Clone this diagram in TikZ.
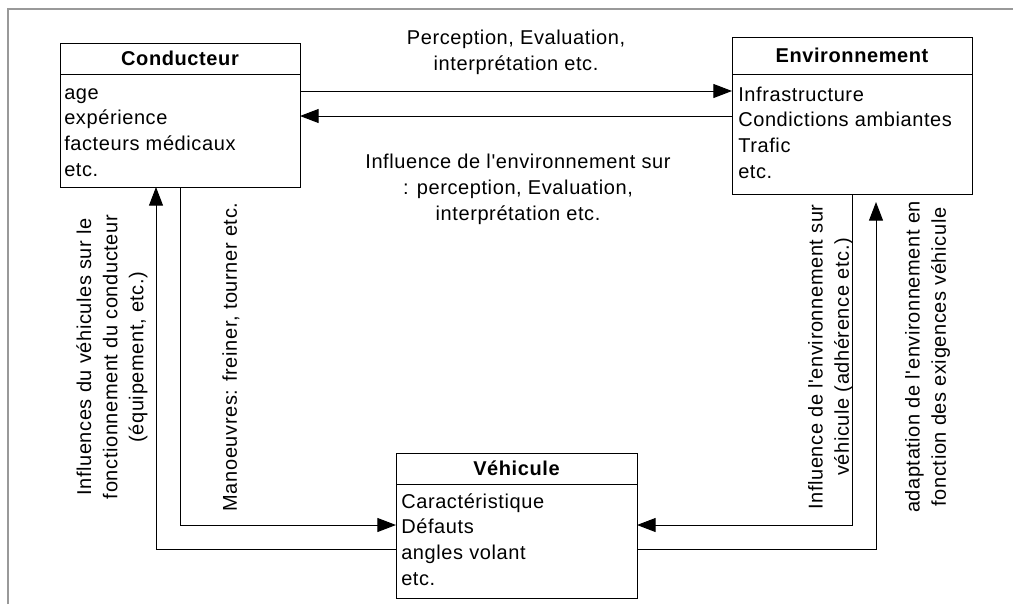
\documentclass[tikz,border=0pt]{standalone}
\usepackage{fontspec}
\setmainfont{Liberation Sans}[LetterSpace=3,Ligatures=TeXOff]
\usetikzlibrary{arrows.meta,calc}
\begin{document}
\begin{tikzpicture}[x=0.75pt,y=-0.75pt,
  font=\fontsize{15}{19.2}\selectfont,
  frame/.style={draw=black!40, line width=1.5pt},
  box/.style={draw=black, line width=0.75pt, inner sep=0pt, outer sep=0pt},
  sep/.style={draw=black, line width=0.75pt},
  head/.style={inner sep=0pt, font=\fontsize{15}{19.2}\selectfont\bfseries, text height=10.5pt, text depth=0pt},
  body/.style={align=left, inner sep=0pt, anchor=north west},
  lab/.style={align=center, inner sep=0pt, font=\fontsize{15}{19.6}\selectfont},
  conn/.style={draw=black, line width=0.75pt, -{Triangle[length=14pt,width=10.5pt]}}]
\useasboundingbox (0,0) rectangle (1013,604);
\draw[frame] (8,604) -- (8,9) -- (1013,9);

% boxes
\node[box, minimum width=180pt, minimum height=108pt] (cond) at (180,115) {};
\node[box, minimum width=180pt, minimum height=117.75pt] (env) at (852,115.5) {};
\node[box, minimum width=180.75pt, minimum height=108.75pt] (veh) at (516.5,525.5) {};

\draw[sep] ($(cond.north west)+(0,31)$) -- ($(cond.north east)+(0,31)$);
\draw[sep] ($(env.north west)+(0,37)$) -- ($(env.north east)+(0,37)$);
\draw[sep] ($(veh.north west)+(0,31)$) -- ($(veh.north east)+(0,31)$);

\node[head] (condT) at ($(cond.north)+(0,15.5)$) {Conducteur};
\node[head] (envT) at ($(env.north)+(0,18)$) {Environnement};
\node[head] (vehT) at ($(veh.north)+(0,15)$) {Véhicule};

\node[body] (condB) at ($(cond.north west)+(4,38.1)$) {\strut age\\expérience\\facteurs médicaux\\etc.};
\node[body] (envB) at ($(env.north west)+(6,46.1)$) {\strut Infrastructure\\Condictions ambiantes\\Trafic\\etc.};
\node[body] (vehB) at ($(veh.north west)+(5,37.1)$) {\strut Caractéristique\\Défauts\\angles volant\\etc.};

% labels
\node[lab] (l1) at (516,52) {Perception, Evaluation,\\interprétation etc.};
\node[lab] (l2) at (518,189) {Influence de l'environnement sur\\: perception, Evaluation,\\interprétation etc.};
\node[lab, rotate=90] (l3) at (112,357) {Influences du véhicules sur le\\fonctionnement du conducteur\\(équipement, etc.)};
\node[lab, rotate=90] (l4) at (231,357) {Manoeuvres: freiner, tourner etc.};
\node[lab, rotate=90] (l5) at (830.5,357) {Influence de l'environnement sur\\véhicule (adhérence etc.)};
\node[lab, rotate=90] (l6) at (927.5,357) {adaptation de l'environnement en\\fonction des exigences véhicule};

% connectors
\coordinate (yA) at (0,91);
\coordinate (yB) at (0,116);
\coordinate (yC) at (0,525);
\coordinate (yD) at (0,549);
\coordinate (xA) at (156,0);
\coordinate (xC) at (876,0);
\draw[conn] (cond.east |- yA) -- (env.west |- yA);
\draw[conn] (env.west |- yB) -- (cond.east |- yB);
\draw[conn] (veh.west |- yD) -| (xA |- cond.south);
\draw[conn] (cond.south) |- (veh.west |- yC);
\draw[conn] (env.south) |- (veh.east |- yC);
\draw[conn, shorten >=6pt] (veh.east |- yD) -| (xC |- env.south);
\end{tikzpicture}
\end{document}
